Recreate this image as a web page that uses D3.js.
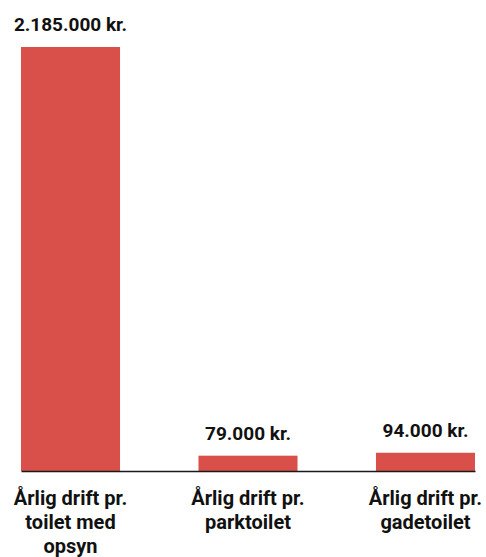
<!DOCTYPE html>
<html>
<head>
<meta charset="utf-8">
<script src="https://cdn.jsdelivr.net/npm/d3@7"></script>
<style>
  html, body { margin: 0; padding: 0; background: #fff; }
  svg text { font-family: Roboto, "Liberation Sans", Arial, sans-serif; font-weight: 700; fill: #111; }
</style>
</head>
<body>
<div id="chart"></div>
<script>

// Årlig drift pr. toilet
var categories = ["Årlig drift pr. toilet med opsyn", "Årlig drift pr. parktoilet", "Årlig drift pr. gadetoilet"];
var values = [2185000, 79000, 94000];
var valueLabels = ["2.185.000 kr.", "79.000 kr.", "94.000 kr."];

var data = categories.map(function (c, i) {
  return { name: c, value: values[i], label: valueLabels[i] };
});

var width = 486,
    height = 557;

var margin = { left: 21, right: 11, top: 47, bottom: 86 };

var svg = d3.select("#chart")
  .append("svg")
  .attr("width", width)
  .attr("height", height);

var x = d3.scaleBand()
  .domain(categories)
  .range([margin.left, width - margin.right])
  .paddingInner(0.442)
  .paddingOuter(0);

var y = d3.scaleLinear()
  .domain([0, d3.max(values)])
  .range([height - margin.bottom, margin.top]);

svg.selectAll(".bar")
  .data(data).enter()
  .append("rect")
  .attr("class", "bar")
  .attr("x", function (d) { return x(d.name); })
  .attr("y", function (d) { return y(d.value); })
  .attr("width", x.bandwidth())
  .attr("height", function (d) { return y(0) - y(d.value); })
  .attr("fill", "#d9504a");

svg.selectAll(".val")
  .data(data).enter()
  .append("text")
  .attr("class", "val")
  .attr("x", function (d) { return x(d.name) + x.bandwidth() / 2; })
  .attr("y", function (d) { return y(d.value) - 16; })
  .attr("text-anchor", "middle")
  .style("font-size", "19px")
  .text(function (d) { return d.label; });

var xAxis = d3.axisBottom(x).tickSize(0).tickSizeOuter(0);

var axisG = svg.append("g")
  .attr("transform", "translate(0," + y(0) + ")")
  .call(xAxis);

axisG.select(".domain")
  .attr("stroke", "#1a1a1a")
  .attr("stroke-width", 1.5);

axisG.selectAll(".tick text")
  .attr("y", 34)
  .attr("dy", 0)
  .style("font-size", "20px")
  .call(wrap, 132);

function wrap(sel, maxWidth) {
  sel.each(function () {
    var text = d3.select(this),
        words = text.text().split(/\s+/),
        line = [],
        lineNo = 0,
        yy = text.attr("y");
    text.text(null);
    var tspan = text.append("tspan").attr("x", 0).attr("y", yy);
    words.forEach(function (w) {
      line.push(w);
      tspan.text(line.join(" "));
      if (tspan.node().getComputedTextLength() > maxWidth && line.length > 1) {
        line.pop();
        tspan.text(line.join(" "));
        line = [w];
        lineNo++;
        tspan = text.append("tspan")
          .attr("x", 0)
          .attr("y", +yy + lineNo * 24)
          .text(w);
      }
    });
  });
}

</script>
</body>
</html>
